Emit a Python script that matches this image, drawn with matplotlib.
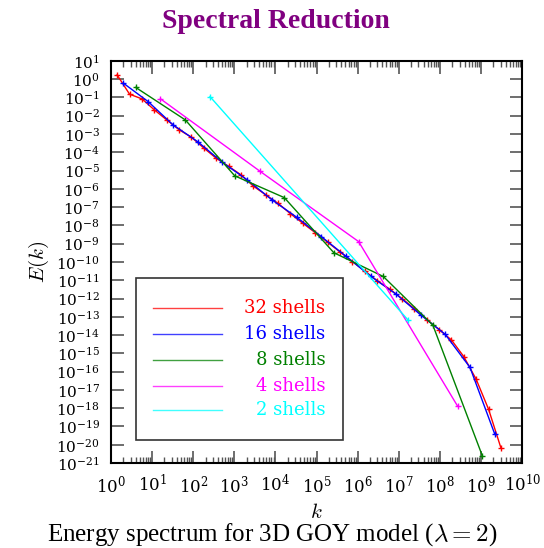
import math
import matplotlib
matplotlib.use("Agg")
import matplotlib.pyplot as plt
from matplotlib.ticker import LogLocator, NullLocator, FixedLocator, FuncFormatter
from matplotlib.patches import Rectangle

# wavenumbers and energies
k32 = [1.41, 2.83, 5.66, 11.3, 22.6, 45.3, 90.5, 181, 362, 724, 1448, 2896,
       5793, 11585, 23170, 46341, 92682, 185364, 370728, 741455, 1.48e6,
       2.97e6, 5.93e6, 1.19e7, 2.37e7, 4.75e7, 9.49e7, 1.90e8, 3.80e8,
       7.59e8, 1.52e9, 3.04e9]
E32 = [1.7, 0.15, 8.3e-2, 2.1e-2, 5.9e-3, 1.7e-3, 6.6e-4, 1.7e-4, 4.7e-5,
       1.7e-5, 5.8e-6, 1.4e-6, 4.7e-7, 1.6e-7, 4.3e-8, 1.3e-8, 4.0e-9, 1.2e-9,
       3.5e-10, 1.05e-10, 3.2e-11, 9.5e-12, 3.3e-12, 1.0e-12, 2.8e-13,
       7.1e-14, 2.0e-14, 5.4e-15, 6.6e-16, 3.8e-17, 8.7e-19, 6.6e-21]

k16 = [2, 8, 32, 128, 512, 2048, 8192, 32768, 131072, 524288, 2.10e6,
       8.39e6, 3.36e7, 1.34e8, 5.37e8, 2.15e9]
E16 = [0.6, 5.9e-2, 3.2e-3, 3.8e-4, 2.8e-5, 3.1e-6, 2.5e-7, 2.8e-8, 2.4e-9,
       2.0e-10, 1.6e-11, 1.8e-12, 1.3e-13, 1.1e-14, 1.7e-16, 3.8e-20]

k8 = [4, 64, 1024, 16384, 262144, 4.19e6, 6.71e7, 1.07e9]
E8 = [0.35, 5.9e-3, 5.1e-6, 3.3e-7, 3.2e-10, 1.6e-11, 3.5e-14, 2.5e-21]

k4 = [16, 4096, 1.05e6, 2.68e8]
E4 = [8.3e-2, 9.5e-6, 1.3e-9, 1.3e-18]

k2 = [256, 1.68e7]
E2 = [0.11, 6.6e-14]

labels = ["32 shells", "16 shells", "8 shells", "4 shells", "2 shells"]
colors = ["#ff0000", "#0000ff", "#008000", "#ff00ff", "#00ffff"]
series = [(k32, E32), (k16, E16), (k8, E8), (k4, E4), (k2, E2)]

fig = plt.figure(figsize=(5.44, 5.48), dpi=100)
ax = fig.add_axes([0.204, 0.155, 0.756, 0.734])

for (k, E), c in zip(series, colors):
    ax.plot(k, E, color=c, lw=1.0, marker="+", ms=5, mew=1.0)

ax.set_xscale("log")
ax.set_yscale("log")
ax.set_xlim(1, 1e10)
ax.set_ylim(1e-21, 1e1)

ax.xaxis.set_major_locator(FixedLocator([10.0 ** i for i in range(0, 11)]))
ax.xaxis.set_minor_locator(LogLocator(base=10, subs=range(2, 10), numticks=100))
ax.yaxis.set_major_locator(FixedLocator([10.0 ** i for i in range(-21, 2)]))
ax.yaxis.set_minor_locator(NullLocator())

fmt = FuncFormatter(lambda v, p: r"$10^{%d}$" % round(math.log10(v)))
ax.xaxis.set_major_formatter(fmt)
ax.yaxis.set_major_formatter(fmt)

ax.tick_params(which="both", direction="in", top=True, right=True, color="#555555")
ax.tick_params(which="major", length=9, width=1.2)
ax.tick_params(which="minor", length=4.5, width=1.0)
ax.tick_params(axis="x", which="major", pad=8, labelsize=12)
ax.tick_params(axis="y", which="major", pad=8, labelsize=11)
for t in ax.get_xticklabels() + ax.get_yticklabels():
    t.set_math_fontfamily("dejavuserif")
for s in ax.spines.values():
    s.set_linewidth(1.5)

ax.set_xlabel("$k$", fontsize=15, math_fontfamily="cm", labelpad=4)
ax.set_ylabel("$E(k)$", fontsize=15, math_fontfamily="cm", labelpad=4)

# legend box drawn by hand
ax.add_patch(Rectangle((0.060, 0.057), 0.504, 0.404, transform=ax.transAxes,
                       fill=True, facecolor="white", edgecolor="#333333", lw=1.2, zorder=5))
rows = [0.385, 0.320, 0.256, 0.192, 0.131]
for lab, c, yy in zip(labels, colors, rows):
    ax.plot([0.102, 0.270], [yy, yy], transform=ax.transAxes, color=c, lw=1.0,
            alpha=0.75, zorder=6)
    ax.text(0.521, yy, lab, transform=ax.transAxes, color=c, ha="right",
            va="center", fontsize=13, family="DejaVu Serif", zorder=6)

fig.text(0.507, 0.960, "Spectral Reduction", ha="center", va="center",
         fontsize=20, fontweight="bold", color="#800080", family="Liberation Serif")
fig.text(0.5, 0.025, r"Energy spectrum for 3D GOY model ($\lambda = 2$)",
         ha="center", va="center", fontsize=18, family="Liberation Serif",
         math_fontfamily="cm")

fig.savefig("out.png", dpi=100)
